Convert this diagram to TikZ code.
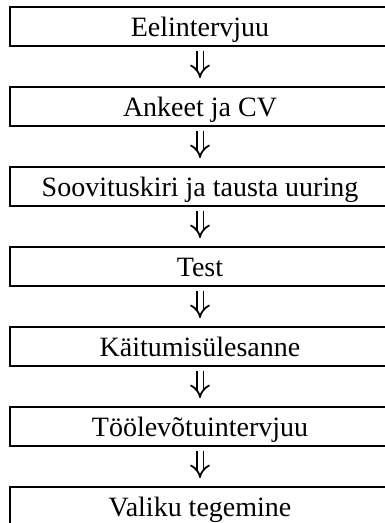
\documentclass[tikz,border=0pt]{standalone}
\usepackage{fontspec}
\setmainfont{Liberation Serif}
\usetikzlibrary{arrows.meta}
\begin{document}
\begin{tikzpicture}[x=1pt,y=-1pt,
  stepbox/.style={draw, line width=2pt, minimum width=380pt, minimum height=39pt,
    inner sep=0pt, text height=19pt, text depth=0pt,
    font=\fontsize{28}{32}\selectfont},
  flow/.style={double, double distance=5pt, line width=1.8pt,
    -{Implies[length=7pt,width=15pt]}, shorten <=4pt, shorten >=8pt}]
\useasboundingbox (0,0) rectangle (385,523);
\node[stepbox] (b1) at (200,26.5) {Eelintervjuu};
\node[stepbox] (b2) at (200,106.5) {Ankeet ja CV};
\node[stepbox] (b3) at (200,186.5) {Soovituskiri ja tausta uuring};
\node[stepbox] (b4) at (200,266.5) {Test};
\node[stepbox] (b5) at (200,346.5) {Käitumisülesanne};
\node[stepbox] (b6) at (200,426.5) {Töölevõtuintervjuu};
\node[stepbox] (b7) at (200,506.5) {Valiku tegemine};
\foreach \a/\b in {b1/b2,b2/b3,b3/b4,b4/b5,b5/b6,b6/b7}
  \draw[flow] (\a.south) -- (\b.north);
\end{tikzpicture}
\end{document}
